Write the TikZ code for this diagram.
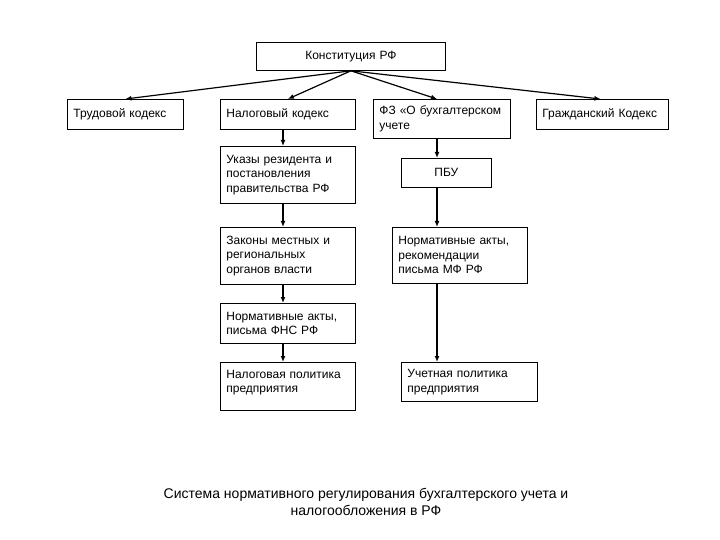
\documentclass[tikz,border=0pt]{standalone}
\usepackage{fontspec}
\setmainfont{Liberation Sans}
\usetikzlibrary{arrows.meta}

\begin{document}
\begin{tikzpicture}[x=1pt,y=1pt,yscale=-1,xscale=1,
  blk/.style={draw, line width=0.8pt, anchor=north west, inner xsep=6pt, inner ysep=0pt,
    align=left, font=\fontsize{12}{14.5}\selectfont},
  arr/.style={line width=1.2pt, -{Latex[length=6pt,width=5pt]}}]
\useasboundingbox (0,0) rectangle (720,540);

% column lines
\coordinate (lc) at (283,0);
\coordinate (rc) at (437,0);

% Top level
\node [blk, align=center, text width=177, minimum height=28] (konst) at (256,42) {Конституция РФ};

% Codes
\node [blk, text width=104, minimum height=30] (trud) at (67,99) {Трудовой кодекс};
\node [blk, text width=123, minimum height=30] (nalk) at (220,99) {Налоговый кодекс};
\node [blk, text width=125, minimum height=39] (fz) at (373,99) {ФЗ «О бухгалтерском\\учете};
\node [blk, text width=120, minimum height=30] (grazh) at (536,99) {Гражданский Кодекс};

% Tax column
\node [blk, text width=123, minimum height=57] (ukaz) at (220,146) {Указы резидента и\\постановления\\правительства РФ};
\node [blk, text width=123, minimum height=57] (zak) at (220,227) {Законы местных и\\региональных\\органов власти};
\node [blk, text width=123, minimum height=40] (fns) at (220,303) {Нормативные акты,\\письма ФНС РФ};
\node [blk, text width=123, minimum height=48] (nalp) at (220,362) {Налоговая политика\\предприятия\\[-4pt]~};

% Accounting column
\node [blk, align=center, text width=78, minimum height=29] (pbu) at (401,158) {ПБУ};
\node [blk, text width=123, minimum height=56] (mf) at (392,227) {Нормативные акты,\\рекомендации\\письма МФ РФ};
\node [blk, text width=124, minimum height=39] (uch) at (401,362) {Учетная политика\\предприятия};

% Arrows from the constitution
\draw [arr] (konst.south) -- (trud.north);
\draw [arr] (konst.south) -- (nalk.north);
\draw [arr] (konst.south) -- (fz.north -| rc);
\draw [arr] (konst.south) -- ([xshift=-2]grazh.north);

% Tax chain
\draw [arr] (nalk.south -| lc) -- (ukaz.north -| lc);
\draw [arr] (ukaz.south -| lc) -- (zak.north -| lc);
\draw [arr] (zak.south -| lc) -- (fns.north -| lc);
\draw [arr] (fns.south -| lc) -- (nalp.north -| lc);

% Accounting chain
\draw [arr] (fz.south -| rc) -- (pbu.north -| rc);
\draw [arr] (pbu.south -| rc) -- (mf.north -| rc);
\draw [arr] (mf.south -| rc) -- (uch.north -| rc);

% Caption
\node [align=center, font=\fontsize{14}{16.5}\selectfont] (cap) at (366,502)
  {Система нормативного регулирования бухгалтерского учета и\\налогообложения в РФ};

\end{tikzpicture}
\end{document}
